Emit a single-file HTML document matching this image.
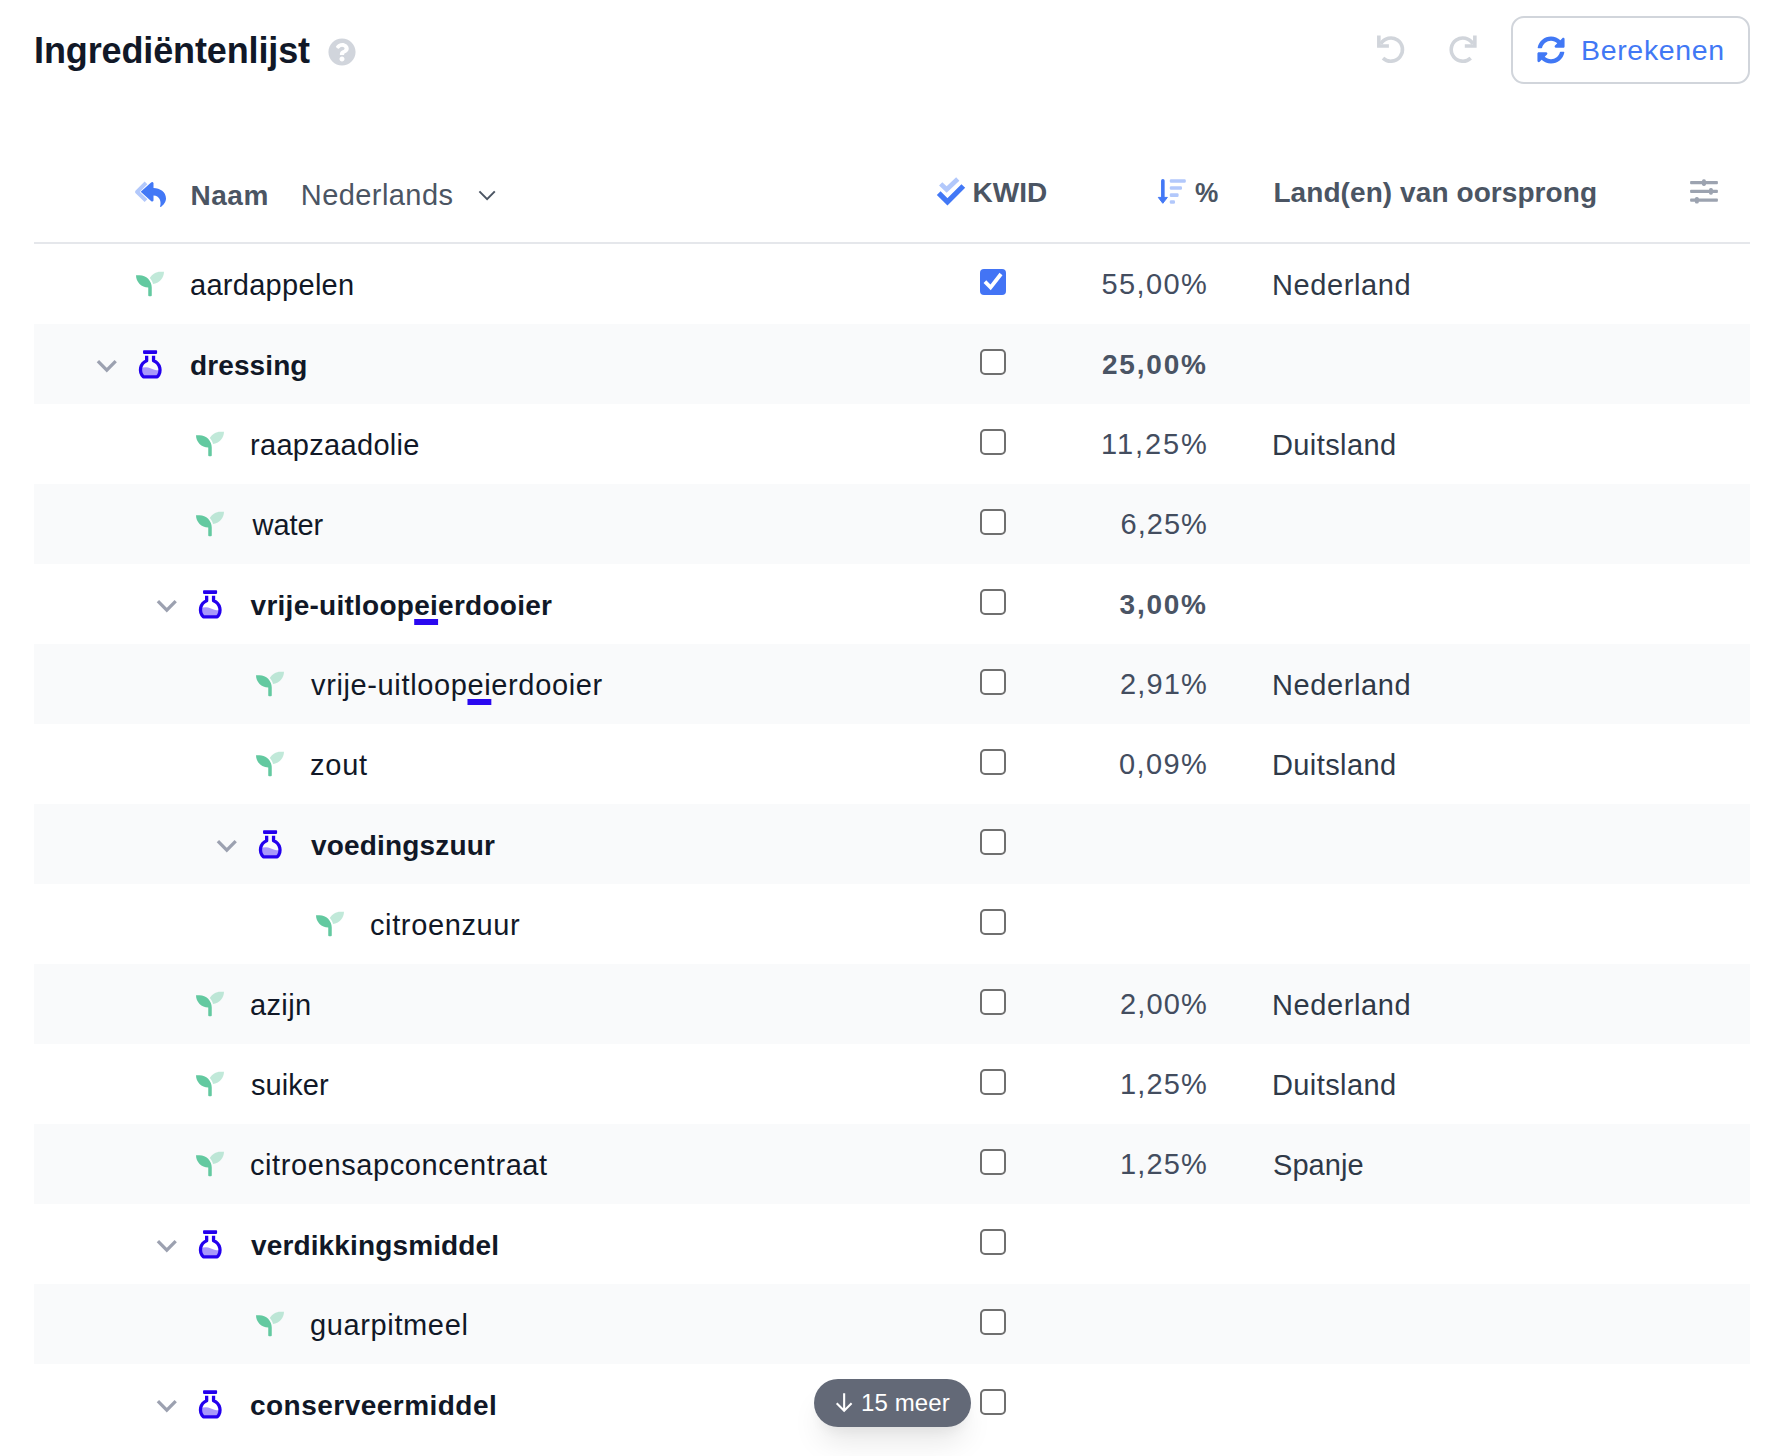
<!DOCTYPE html>
<html lang="nl">
<head>
<meta charset="utf-8">
<title>Ingrediëntenlijst</title>
<style>
*{box-sizing:border-box;margin:0;padding:0}
html,body{width:1790px;height:1456px;background:#fff;overflow:hidden}
body{position:relative;font-family:"Liberation Sans",sans-serif;color:#111827}
svg{display:block;overflow:visible}
.abs{position:absolute}
.t{position:absolute;white-space:nowrap;line-height:34px;font-size:29px;font-weight:400}
.t.title{font-size:36px;font-weight:700;color:#111827}
.t.hs{font-size:28px;font-weight:700;color:#4b5563}
.t.hr{font-size:29px;color:#4b5563}
.t.pc{transform:scaleX(.936);transform-origin:0 0}
.t.bt{font-size:28.500px;color:#4178f5}
.t.pl{font-size:24px;color:#fff}
.t.name{color:#111827}
.t.pct{color:#434d5f}
.t.land{color:#2f3948}
.t.b{font-size:28px;font-weight:700}
.t.pct.b{color:#4a5464}
.t u{text-decoration:underline;text-decoration-color:#2a08f0;text-decoration-thickness:6px;text-underline-offset:4px;text-decoration-skip-ink:none}
.btn{position:absolute;left:1511px;top:16px;width:239px;height:68px;border:2px solid #d1d5db;border-radius:13px;background:#fff}
.hline{position:absolute;left:34px;top:242px;width:1716px;height:2px;background:#e5e7eb}
.row{position:absolute;left:34px;width:1716px;height:80px}
.row.tint{background:#f9fafb}
.cb{position:absolute;left:946px;top:25px;width:26px;height:26px;border:2px solid #6f6f6f;border-radius:5px;background:#fff}
.cb.on{background:#4374f5;border:0;border-radius:4px}
.cb.on svg{position:absolute;left:0;top:0;width:26px;height:26px}
.seed{position:absolute;top:26px;width:28px;height:28px}
.flask{position:absolute;top:24px;width:28px;height:32px}
.chev{position:absolute;top:33px;width:26px;height:18px}
.pill{position:absolute;left:814px;top:1379px;width:157px;height:48px;border-radius:24px;background:#636977;box-shadow:0 20px 30px -6px rgba(0,0,0,.1),0 8px 12px -4px rgba(0,0,0,.05)}
</style>
</head>
<body>
<svg width="0" height="0" style="position:absolute">
<defs>
<g id="i-seed"><path fill="#63c9a0" d="M64 96H0c0 123.700 100.300 224 224 224v144c0 8.800 7.200 16 16 16h32c8.800 0 16-7.200 16-16V320C288 196.300 187.700 96 64 96z"/><path fill="#63c9a0" opacity=".4" d="M448 32c-84.200 0-157.400 46.500-195.700 115.200 27.700 30.200 48.200 66.900 59 107.600C424 243.100 512 147.900 512 32h-64z"/></g>
<g id="i-chev"><path d="M3.900 4.200l8.900 8.900 8.900-8.900" fill="none" stroke="#9ca1b0" stroke-width="3.300" stroke-linecap="butt" stroke-linejoin="miter"/></g>
<g id="i-flask"><rect x="143.050" y="350.300" width="14.050" height="3.600" rx=".8" fill="#2400ee"/><path d="M140.600 368.400C144 367 147.500 367 150.300 368.200S156.500 370.600 160.100 370.300A9.850 9.850 0 0 1 157.200 376.900H143.400A9.850 9.850 0 0 1 140.600 368.400Z" fill="#a898fa"/><path d="M146.650 355.800V360.750A9.850 9.850 0 0 0 143.400 376.900H157.200A9.850 9.850 0 0 0 153.550 360.750V355.800" fill="none" stroke="#2400ee" stroke-width="3.300" stroke-linejoin="round"/></g>
</defs>
</svg>

<span class="t title" style="left:34.1px;top:34px;letter-spacing:-0.13px">Ingrediëntenlijst</span>
<svg class="abs" style="left:327.800px;top:38px;width:28px;height:28px" viewBox="0 0 512 512"><path fill="#d1d5dc" fill-rule="evenodd" d="M504 256c0 136.997-111.043 248-248 248S8 392.997 8 256C8 119.083 119.043 8 256 8s248 111.083 248 248zM262.655 90c-54.497 0-89.255 22.957-116.549 63.758-3.536 5.286-2.353 12.415 2.715 16.258l34.699 26.310c5.205 3.947 12.621 3.008 16.665-2.122 17.864-22.658 30.113-35.797 57.303-35.797 20.429 0 45.698 13.148 45.698 32.958 0 14.976-12.363 22.667-32.534 33.976C247.128 238.528 216 254.941 216 296v4c0 6.627 5.373 12 12 12h56c6.627 0 12-5.373 12-12v-1.333c0-28.462 83.186-29.647 83.186-106.667 0-58.002-60.165-102-116.531-102zM256 338c-25.365 0-46 20.635-46 46 0 25.364 20.635 46 46 46s46-20.636 46-46c0-25.365-20.635-46-46-46z"/></svg>

<svg class="abs" style="left:1370px;top:30px;width:114px;height:40px" viewBox="1370 30 114 40"><g id="i-undo" fill="none" stroke="#d1d5db" stroke-width="3.600"><path d="M1378.850 35.600V46H1388.900"/><path d="M1380.85 43.80A11.6 11.6 0 1 1 1382.99 58.08"/></g><use href="#i-undo" transform="translate(2853.700 0) scale(-1 1)"/></svg>

<div class="btn"></div>
<svg class="abs" style="left:1536.600px;top:35.600px;width:28px;height:28px" viewBox="0 0 512 512"><path fill="#4178f5" d="M370.720 133.280C339.458 104.008 298.888 87.962 255.848 88c-77.458.068-144.328 53.178-162.791 126.850-1.344 5.363-6.122 9.150-11.651 9.150H24.103c-7.498 0-13.194-6.807-11.807-14.176C33.933 94.924 134.813 8 256 8c66.448 0 126.791 26.136 171.315 68.685L463.030 40.970C478.149 25.851 504 36.559 504 57.941V192c0 13.255-10.745 24-24 24H345.941c-21.382 0-32.090-25.851-16.971-40.971l41.750-41.749zM32 296h134.059c21.382 0 32.090 25.851 16.971 40.971l-41.750 41.750c31.262 29.273 71.835 45.319 114.876 45.280 77.418-.070 144.315-53.144 162.787-126.849 1.344-5.363 6.122-9.150 11.651-9.150h57.304c7.498 0 13.194 6.807 11.807 14.176C478.067 417.076 377.187 504 256 504c-66.448 0-126.791-26.136-171.315-68.685L48.970 471.030C33.851 486.149 8 475.441 8 454.059V320c0-13.255 10.745-24 24-24z"/></svg>
<span class="t bt" style="left:1581.0px;top:33px;letter-spacing:0.67px">Berekenen</span>

<svg class="abs" style="left:130px;top:176px;width:40px;height:36px" viewBox="130 176 40 36"><path d="M146 182.900L137 191.800L146 200.700" fill="none" stroke="#b2c8fb" stroke-width="3.900" stroke-linejoin="round"/><path fill="#4278f6" d="M140.700 191.800L150.800 182.700Q152.600 181.300 153.500 183V187.900C160 188.200 166 191.500 166 198.500C166 202 163.500 205.200 160.800 206.900Q159.800 207.300 160.200 206C161.500 201 159.500 195.800 153.500 195.400V200.400Q152.800 202.300 151 201Z"/></svg>
<span class="t hs" style="left:190.5px;top:179px;letter-spacing:0.54px">Naam</span>
<span class="t hr" style="left:300.8px;top:178px;letter-spacing:0.43px">Nederlands</span>
<svg class="abs" style="left:477px;top:188px;width:20px;height:14px" viewBox="477 188 20 14"><path d="M479.400 191.400l7.700 7.700 7.700-7.700" fill="none" stroke="#4b5563" stroke-width="2"/></svg>
<svg class="abs" style="left:935px;top:175px;width:32px;height:32px" viewBox="935 175 32 32"><path d="M940.660 183.830L946.670 189.560L957.770 179.020" fill="none" stroke="#b2c8fb" stroke-width="4.700"/><path d="M938.700 193.200L947.460 201.860L963.300 186" fill="none" stroke="#4278f6" stroke-width="5.300"/></svg>
<span class="t hs" style="left:972.6px;top:176px;letter-spacing:-0.01px">KWID</span>
<svg class="abs" style="left:1155px;top:177px;width:33px;height:30px" viewBox="1155 177 33 30"><path d="M1162.850 180.800V198" stroke="#4278f6" stroke-width="3.600" stroke-linecap="round" fill="none"/><path d="M1158.300 197.400h9.100l-4.600 5.900z" fill="#4278f6" stroke="#4278f6" stroke-width="1" stroke-linejoin="round"/><g fill="#b2c8fb"><rect x="1169.800" y="179.200" width="16" height="3.600" rx="1.200"/><rect x="1169.800" y="186.200" width="12.200" height="3.600" rx="1.200"/><rect x="1169.800" y="193.300" width="8.800" height="3.600" rx="1.200"/><rect x="1169.800" y="200.200" width="5.200" height="3.600" rx="1.200"/></g></svg>
<span class="t hs pc" style="left:1195.0px;top:176px;letter-spacing:0.00px">%</span>
<span class="t hs" style="left:1273.4px;top:176px;letter-spacing:0.08px">Land(en) van oorsprong</span>
<svg class="abs" style="left:1688px;top:177px;width:32px;height:30px" viewBox="1688 177 32 30"><g fill="#9ca3b0"><rect x="1690.100" y="181.100" width="27.800" height="3.100" rx=".9"/><rect x="1690.100" y="189.800" width="27.800" height="3.100" rx=".9"/><rect x="1690.100" y="198.600" width="27.800" height="3.100" rx=".9"/><rect x="1702" y="179.200" width="3.900" height="6.700" rx="1.700"/><rect x="1709" y="188.100" width="3.900" height="6.700" rx="1.700"/><rect x="1694.900" y="196.900" width="3.900" height="6.700" rx="1.700"/></g></svg>
<div class="hline"></div>

<div class="row" style="top:244px"><svg class="seed" style="left:102px" viewBox="0 0 512 512"><use href="#i-seed"/></svg><span class="t name" style="left:156.0px;top:24px;letter-spacing:0.29px">aardappelen</span><span class="cb on"><svg viewBox="0 0 26 26"><path d="M4.900 12.700l5.700 5.700L21 5" fill="none" stroke="#fff" stroke-width="3.800"/></svg></span><span class="t pct" style="left:1067.4px;top:23px;letter-spacing:1.41px">55,00%</span><span class="t land" style="left:1238.0px;top:24px;letter-spacing:0.59px">Nederland</span></div>
<div class="row tint" style="top:324px"><svg class="chev" style="left:60px" viewBox="0 0 26 18"><use href="#i-chev"/></svg><svg class="flask" style="left:102px" viewBox="136 348 28 32"><use href="#i-flask"/></svg><span class="t name b" style="left:156.0px;top:25px;letter-spacing:0.11px">dressing</span><span class="cb"></span><span class="t pct b" style="left:1068.0px;top:24px;letter-spacing:1.79px">25,00%</span></div>
<div class="row" style="top:404px"><svg class="seed" style="left:162px" viewBox="0 0 512 512"><use href="#i-seed"/></svg><span class="t name" style="left:216.0px;top:24px;letter-spacing:0.31px">raapzaadolie</span><span class="cb"></span><span class="t pct" style="left:1067.0px;top:23px;letter-spacing:1.92px">11,25%</span><span class="t land" style="left:1238.0px;top:24px;letter-spacing:0.40px">Duitsland</span></div>
<div class="row tint" style="top:484px"><svg class="seed" style="left:162px" viewBox="0 0 512 512"><use href="#i-seed"/></svg><span class="t name" style="left:218.6px;top:24px;letter-spacing:-0.06px">water</span><span class="cb"></span><span class="t pct" style="left:1086.6px;top:23px;letter-spacing:0.99px">6,25%</span></div>
<div class="row" style="top:564px"><svg class="chev" style="left:120px" viewBox="0 0 26 18"><use href="#i-chev"/></svg><svg class="flask" style="left:162px" viewBox="136 348 28 32"><use href="#i-flask"/></svg><span class="t name b" style="left:216.6px;top:25px;letter-spacing:0.26px">vrije-uitloop<u>ei</u>erdooier</span><span class="cb"></span><span class="t pct b" style="left:1085.6px;top:24px;letter-spacing:1.73px">3,00%</span></div>
<div class="row tint" style="top:644px"><svg class="seed" style="left:222px" viewBox="0 0 512 512"><use href="#i-seed"/></svg><span class="t name" style="left:277.0px;top:24px;letter-spacing:0.63px">vrije-uitloop<u>ei</u>erdooier</span><span class="cb"></span><span class="t pct" style="left:1086.0px;top:23px;letter-spacing:1.14px">2,91%</span><span class="t land" style="left:1238.0px;top:24px;letter-spacing:0.59px">Nederland</span></div>
<div class="row" style="top:724px"><svg class="seed" style="left:222px" viewBox="0 0 512 512"><use href="#i-seed"/></svg><span class="t name" style="left:276.0px;top:24px;letter-spacing:0.75px">zout</span><span class="cb"></span><span class="t pct" style="left:1085.0px;top:23px;letter-spacing:1.39px">0,09%</span><span class="t land" style="left:1238.0px;top:24px;letter-spacing:0.40px">Duitsland</span></div>
<div class="row tint" style="top:804px"><svg class="chev" style="left:180px" viewBox="0 0 26 18"><use href="#i-chev"/></svg><svg class="flask" style="left:222px" viewBox="136 348 28 32"><use href="#i-flask"/></svg><span class="t name b" style="left:277.0px;top:25px;letter-spacing:0.17px">voedingszuur</span><span class="cb"></span></div>
<div class="row" style="top:884px"><svg class="seed" style="left:282px" viewBox="0 0 512 512"><use href="#i-seed"/></svg><span class="t name" style="left:336.0px;top:24px;letter-spacing:0.62px">citroenzuur</span><span class="cb"></span></div>
<div class="row tint" style="top:964px"><svg class="seed" style="left:162px" viewBox="0 0 512 512"><use href="#i-seed"/></svg><span class="t name" style="left:216.0px;top:24px;letter-spacing:0.37px">azijn</span><span class="cb"></span><span class="t pct" style="left:1086.0px;top:23px;letter-spacing:1.14px">2,00%</span><span class="t land" style="left:1238.0px;top:24px;letter-spacing:0.59px">Nederland</span></div>
<div class="row" style="top:1044px"><svg class="seed" style="left:162px" viewBox="0 0 512 512"><use href="#i-seed"/></svg><span class="t name" style="left:217.0px;top:24px;letter-spacing:0.06px">suiker</span><span class="cb"></span><span class="t pct" style="left:1086.0px;top:23px;letter-spacing:1.14px">1,25%</span><span class="t land" style="left:1238.0px;top:24px;letter-spacing:0.40px">Duitsland</span></div>
<div class="row tint" style="top:1124px"><svg class="seed" style="left:162px" viewBox="0 0 512 512"><use href="#i-seed"/></svg><span class="t name" style="left:216.0px;top:24px;letter-spacing:0.59px">citroensapconcentraat</span><span class="cb"></span><span class="t pct" style="left:1086.0px;top:23px;letter-spacing:1.14px">1,25%</span><span class="t land" style="left:1239.0px;top:24px;letter-spacing:0.05px">Spanje</span></div>
<div class="row" style="top:1204px"><svg class="chev" style="left:120px" viewBox="0 0 26 18"><use href="#i-chev"/></svg><svg class="flask" style="left:162px" viewBox="136 348 28 32"><use href="#i-flask"/></svg><span class="t name b" style="left:217.0px;top:25px;letter-spacing:0.14px">verdikkingsmiddel</span><span class="cb"></span></div>
<div class="row tint" style="top:1284px"><svg class="seed" style="left:222px" viewBox="0 0 512 512"><use href="#i-seed"/></svg><span class="t name" style="left:276.0px;top:24px;letter-spacing:0.63px">guarpitmeel</span><span class="cb"></span></div>
<div class="row" style="top:1364px"><svg class="chev" style="left:120px" viewBox="0 0 26 18"><use href="#i-chev"/></svg><svg class="flask" style="left:162px" viewBox="136 348 28 32"><use href="#i-flask"/></svg><span class="t name b" style="left:216.0px;top:25px;letter-spacing:0.47px">conserveermiddel</span><span class="cb"></span></div>

<div class="pill"></div>
<svg class="abs" style="left:834px;top:1392px;width:20px;height:21px" viewBox="834 1392 20 21"><path d="M844.150 1393.200V1410.500M836.700 1403.300L844.150 1410.700L851.600 1403.300" fill="none" stroke="#fff" stroke-width="2.100"/></svg>
<span class="t pl" style="left:861.0px;top:1386px;letter-spacing:0.12px">15 meer</span>
</body>
</html>
